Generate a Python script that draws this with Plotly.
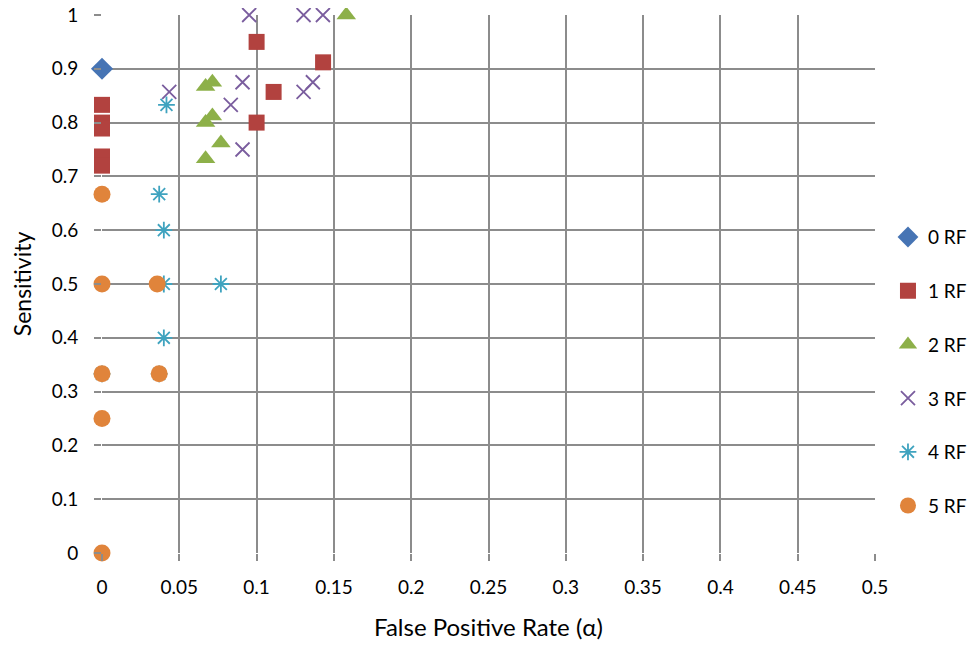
import plotly.graph_objects as go

# ---- data ----
rf0_x = [0.0]
rf0_y = [0.9]

rf1_x = [0.0, 0.0, 0.0, 0.0, 0.0, 0.1, 0.143, 0.111, 0.1]
rf1_y = [0.833, 0.8, 0.789, 0.737, 0.72, 0.95, 0.912, 0.857, 0.8]

rf2_x = [0.158, 0.067, 0.0714, 0.067, 0.0714, 0.0769, 0.067]
rf2_y = [1.0, 0.867, 0.875, 0.8, 0.8125, 0.762, 0.733]

rf3_x = [0.0952, 0.1304, 0.1429, 0.0435, 0.0909, 0.0833, 0.0909, 0.1364, 0.1304]
rf3_y = [1.0, 1.0, 1.0, 0.857, 0.875, 0.833, 0.75, 0.875, 0.857]

rf4_x = [0.0417, 0.037, 0.04, 0.0769, 0.04, 0.04, 0.0, 0.037]
rf4_y = [0.833, 0.667, 0.6, 0.5, 0.5, 0.4, 0.333, 0.333]

rf5_x = [0.0, 0.0, 0.0357, 0.0, 0.037, 0.0, 0.0]
rf5_y = [0.667, 0.5, 0.5, 0.333, 0.333, 0.25, 0.0]

series_names = ["0 RF", "1 RF", "2 RF", "3 RF", "4 RF", "5 RF"]

x_tickvals = [0, 0.05, 0.1, 0.15, 0.2, 0.25, 0.3, 0.35, 0.4, 0.45, 0.5]
x_ticktext = ["0", "0.05", "0.1", "0.15", "0.2", "0.25", "0.3", "0.35", "0.4", "0.45", "0.5"]
y_tickvals = [0, 0.1, 0.2, 0.3, 0.4, 0.5, 0.6, 0.7, 0.8, 0.9, 1.0]
y_ticktext = ["0", "0.1", "0.2", "0.3", "0.4", "0.5", "0.6", "0.7", "0.8", "0.9", "1"]

FONT = "Lato, 'Open Sans', sans-serif"

fig = go.Figure()

styles = [
    (rf0_x, rf0_y, dict(symbol="diamond", size=17, color="#4674B4", line=dict(width=0))),
    (rf1_x, rf1_y, dict(symbol="square", size=16, color="#B2423F", line=dict(width=0))),
    (rf2_x, rf2_y, dict(symbol="triangle-up", size=17, color="#8DB049", line=dict(width=0))),
    (rf3_x, rf3_y, dict(symbol="x-thin-open", size=14, color="#7A5D9E", line=dict(width=1.8, color="#7A5D9E"))),
    (rf4_x, rf4_y, dict(symbol="asterisk-open", size=14, color="#3FA3BF", line=dict(width=1.8, color="#3FA3BF"))),
    (rf5_x, rf5_y, dict(symbol="circle", size=17, color="#E0843B", line=dict(width=0))),
]

for i, (xs, ys, m) in enumerate(styles):
    fig.add_trace(go.Scatter(
        x=xs, y=ys, mode="markers", name=series_names[i],
        marker=m, cliponaxis=False, legendgroup=series_names[i],
    ))

# page body adds an 8px offset; figure sized so it fits without scrollbars
fig.update_layout(
    width=959, height=633,
    margin=dict(l=94, r=92, t=7, b=88, autoexpand=False),
    paper_bgcolor="white", plot_bgcolor="white",
    font=dict(family=FONT, size=19, color="black"),
    legend=dict(xref="container", yref="container", x=0.9176, y=0.668,
                xanchor="left", yanchor="top",
                font=dict(size=19), tracegroupgap=26,
                itemwidth=30, bgcolor="rgba(0,0,0,0)"),
    xaxis=dict(
        range=[0, 0.5], tickvals=x_tickvals, ticktext=x_ticktext,
        showgrid=True, gridcolor="#8C8C8C", gridwidth=1.5,
        zeroline=False, showline=False, automargin=False,
        ticks="outside", ticklen=7, tickcolor="#8C8C8C", tickwidth=1.5,
        tickfont=dict(size=19), ticklabelstandoff=10, ticklabeloverflow="allow",
        title=dict(text="False Positive Rate (α)", font=dict(size=24), standoff=32),
    ),
    yaxis=dict(
        range=[0, 1], tickvals=y_tickvals, ticktext=y_ticktext,
        showgrid=True, gridcolor="#8C8C8C", gridwidth=1.5,
        zeroline=False, showline=False, automargin=False,
        ticks="outside", ticklen=7, tickcolor="#8C8C8C", tickwidth=1.5,
        tickfont=dict(size=19), ticklabelstandoff=12, ticklabeloverflow="allow",
        title=dict(text="Sensitivity", font=dict(size=23), standoff=21),
    ),
)

fig.write_html("out.html")
